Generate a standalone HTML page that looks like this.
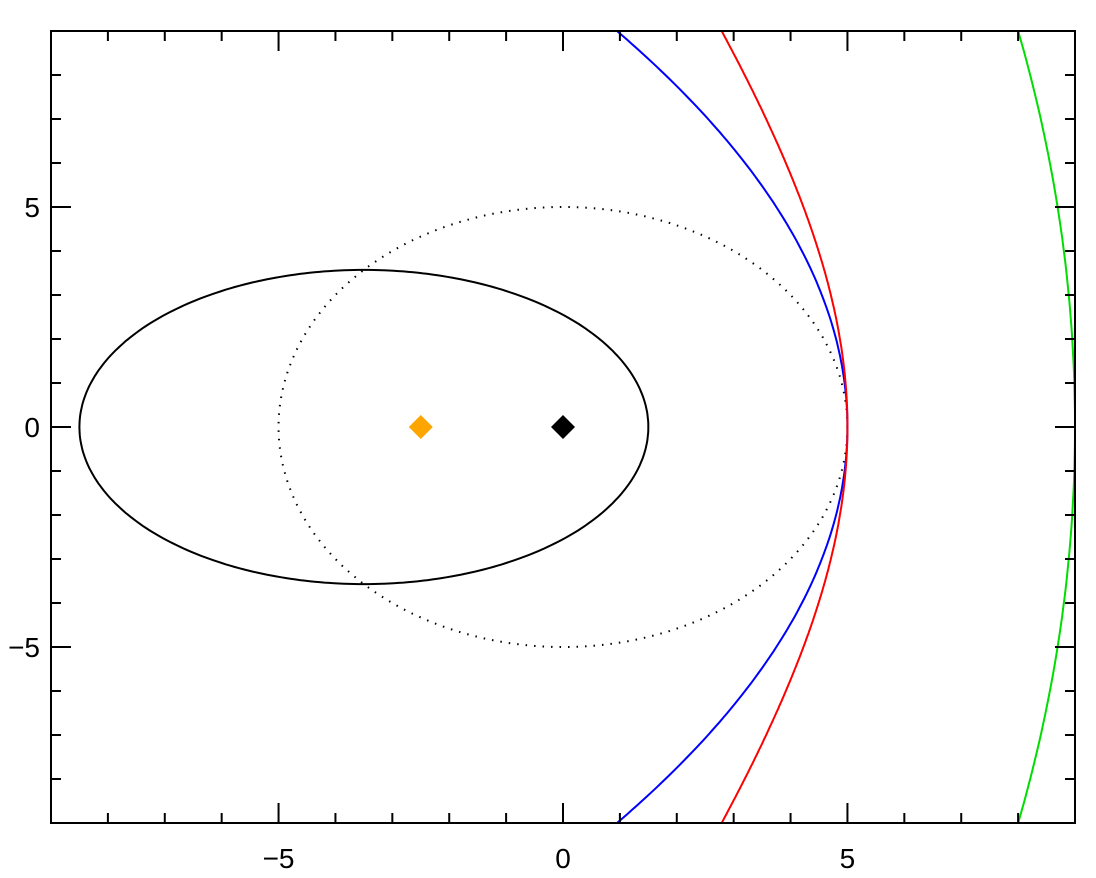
<!DOCTYPE html>
<html><head><meta charset="utf-8"><style>
html,body{margin:0;background:#fff;overflow:hidden;width:1096px;height:878px}
svg{display:block}
text{font-family:"Liberation Sans",sans-serif;font-size:28px;fill:#000}
</style></head><body>
<svg id="chart" width="1096" height="878" viewBox="0 0 1096 878" xmlns="http://www.w3.org/2000/svg"></svg>
<script>
const xTicks=[-5,0,5];
const yTicks=[5,0,-5];
const tickLabels=["−5","0","5"];
const ellipseCenter=[-3.5,0];
const ellipseAxes=[5,3.57];
const circleRadius=[5];
const parabolaQ=[5];
const hyperbolaQE=[5,2];
const greenArc=[-32,41];
const markerX=[-2.5,0];
const markerColors=["orange","black"];
const L=51,R=1075,T=31,B=823,xmin=-9,xmax=9,ymin=-9,ymax=9;
const sx=v=>L+(v-xmin)/(xmax-xmin)*(R-L);
const sy=v=>B-(v-ymin)/(ymax-ymin)*(B-T);
const svg=document.getElementById('chart');
const NS='http://www.w3.org/2000/svg';
function mk(tag,attrs,parent){const e=document.createElementNS(NS,tag);for(const k in attrs)e.setAttribute(k,attrs[k]);(parent||svg).appendChild(e);return e;}
const defs=mk('clipPath',{id:'clip'});mk('rect',{x:L,y:T,width:R-L,height:B-T},defs);
const g=mk('g',{'clip-path':'url(#clip)'});


function curve(pts,color,name,dash){const d=pts.map((p,i)=>(i?'L':'M')+sx(p[0]).toFixed(1)+','+sy(p[1]).toFixed(1)).join('');const p=mk('path',{d:d,fill:'none',stroke:color,'stroke-width':2},g);if(dash)p.setAttribute('stroke-dasharray',dash);

}
let pts=[];
for(let i=0;i<=360;i++){const t=i*Math.PI/180;pts.push([ellipseCenter[0]+ellipseAxes[0]*Math.cos(t),ellipseCenter[1]+ellipseAxes[1]*Math.sin(t)]);}
curve(pts,'#000','ellipse-orbit');
pts=[];for(let i=0;i<=360;i++){const t=i*Math.PI/180;pts.push([circleRadius[0]*Math.cos(t),circleRadius[0]*Math.sin(t)]);}
curve(pts,'#000','circle-orbit','1.5 7');
pts=[];for(let y=-10;y<=10;y+=0.1){pts.push([parabolaQ[0]-y*y/(4*parabolaQ[0]),y]);}
curve(pts,'#0000ff','parabola-orbit');
pts=[];{const q=hyperbolaQE[0],e=hyperbolaQE[1],p=q*(1+e);for(let th=-1.9;th<=1.9;th+=0.005){const r=p/(1+e*Math.cos(th));if(r>0&&r<40)pts.push([r*Math.cos(th),r*Math.sin(th)]);}}
curve(pts,'#ff0000','hyperbola-orbit');
pts=[];for(let t=-0.3;t<=0.3001;t+=0.005){pts.push([greenArc[0]+greenArc[1]*Math.cos(t),greenArc[1]*Math.sin(t)]);}
curve(pts,'#00dd00','green-orbit');
markerX.forEach((v,i)=>{const cx=sx(v),cy=sy(0),s=12;const m=mk('polygon',{points:`${cx},${cy-s} ${cx+s},${cy} ${cx},${cy+s} ${cx-s},${cy}`,fill:markerColors[i]});

});
const frame=mk('rect',{x:L,y:T,width:R-L,height:B-T,fill:'none',stroke:'#000','stroke-width':2});


for(let v=-8;v<=8;v++){const len=v%5===0?20:10;const x=sx(v),y=sy(v);
mk('line',{x1:x,y1:B,x2:x,y2:B-len,stroke:'#000','stroke-width':2});
mk('line',{x1:x,y1:T,x2:x,y2:T+len,stroke:'#000','stroke-width':2});
mk('line',{x1:L,y1:y,x2:L+len,y2:y,stroke:'#000','stroke-width':2});
mk('line',{x1:R,y1:y,x2:R-len,y2:y,stroke:'#000','stroke-width':2});}
xTicks.forEach((v,i)=>{const t=mk('text',{x:sx(v),y:868,'text-anchor':'middle'});t.textContent=tickLabels[i];

});
yTicks.forEach(v=>{const t=mk('text',{x:40,y:sy(v)+10,'text-anchor':'end'});t.textContent=v<0?'−'+(-v):String(v);

});
</script>
</body></html>
